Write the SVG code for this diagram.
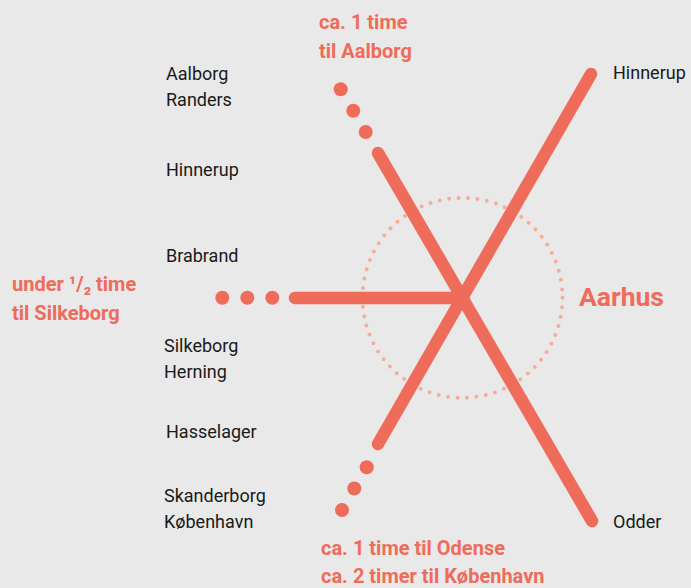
<svg xmlns="http://www.w3.org/2000/svg" width="691" height="588" viewBox="0 0 691 588">
<style>
.bg{fill:#e8e9e8}
.ring{fill:none;stroke:#f6ae98;stroke-width:4;stroke-linecap:round;stroke-dasharray:0 9.52}
.route{stroke:#ef6b5a;stroke-width:12.5;stroke-linecap:round;fill:none}
.dot{fill:#ef6b5a}
.lbl{font-family:Roboto,"Liberation Sans",sans-serif;font-size:18px;fill:#1a1a1a}
.red{font-family:Roboto,"Liberation Sans",sans-serif;font-size:20px;font-weight:bold;fill:#ef6b5a}
.city{font-family:Roboto,"Liberation Sans",sans-serif;font-size:26.5px;font-weight:bold;fill:#ef6b5a}
</style>
<rect class="bg" x="0" y="0" width="691" height="588"/>
<g id="ring"><circle class="ring" cx="462.5" cy="297.8" r="100"/></g>
<g id="connectors">
<line class="route" x1="295" y1="298" x2="463" y2="298"/>
<line class="route" x1="378" y1="153" x2="592" y2="521"/>
<line class="route" x1="378" y1="444" x2="591" y2="74"/>
<circle class="dot" cx="222.3" cy="297.8" r="7"/>
<circle class="dot" cx="247.3" cy="297.8" r="7"/>
<circle class="dot" cx="272.3" cy="297.8" r="7"/>
<circle class="dot" cx="340.7" cy="89.3" r="7"/>
<circle class="dot" cx="353.3" cy="110.7" r="7"/>
<circle class="dot" cx="365.7" cy="132" r="7"/>
<circle class="dot" cx="366.7" cy="467.3" r="7"/>
<circle class="dot" cx="354.3" cy="488.5" r="7"/>
<circle class="dot" cx="342" cy="510" r="7"/>
</g>
<g id="aarhus"><text class="city" x="579" y="306">Aarhus</text></g>
<g id="labels-left">
<text class="lbl" x="166" y="80">Aalborg</text>
<text class="lbl" x="166" y="106">Randers</text>
<text class="lbl" x="166" y="176">Hinnerup</text>
<text class="lbl" x="166" y="262">Brabrand</text>
<text class="lbl" x="164" y="352">Silkeborg</text>
<text class="lbl" x="164" y="378">Herning</text>
<text class="lbl" x="166" y="438">Hasselager</text>
<text class="lbl" x="164" y="502">Skanderborg</text>
<text class="lbl" x="164" y="528">København</text>
</g>
<g id="labels-right">
<text class="lbl" x="613" y="79">Hinnerup</text>
<text class="lbl" x="613" y="528">Odder</text>
</g>
<g id="times">
<text class="red" x="319" y="29">ca. 1 time</text>
<text class="red" x="319" y="58">til Aalborg</text>
<text class="red" x="12" y="291">under ¹/₂ time</text>
<text class="red" x="12" y="320">til Silkeborg</text>
<text class="red" x="321" y="555">ca. 1 time til Odense</text>
<text class="red" x="321" y="583">ca. 2 timer til København</text>
</g>
</svg>
